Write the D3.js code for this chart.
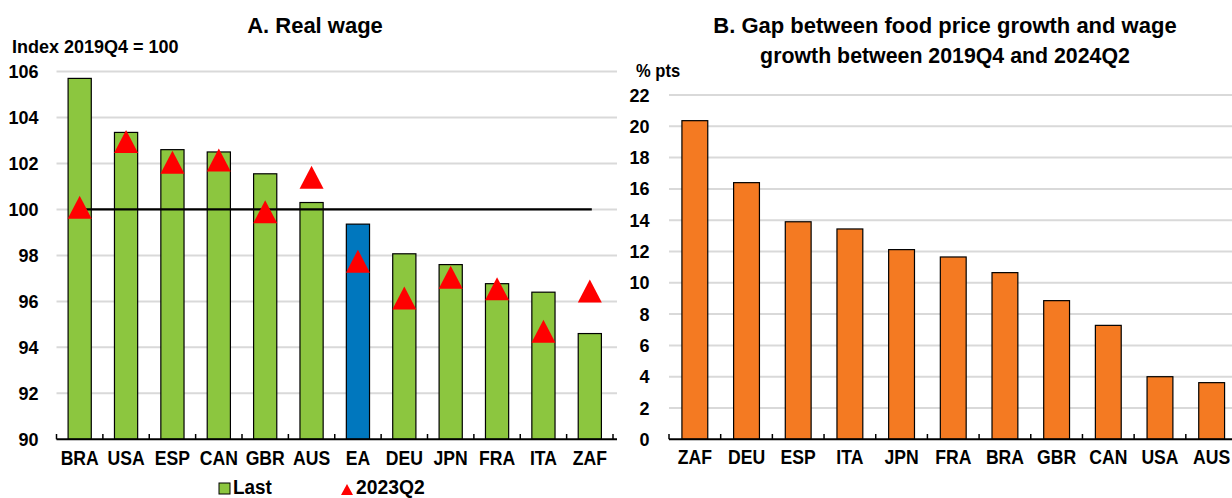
<!DOCTYPE html>
<html lang="en">
<head>
<meta charset="utf-8">
<title>Real wages and food prices</title>
<script src="https://d3js.org/d3.v7.min.js"></script>
<style>
  body { margin: 0; background: #fff; }
  text { font-family: "Liberation Sans", Arial, sans-serif; font-weight: bold; fill: #000; }
</style>
</head>
<body>
<script>
// Panel A data
var catsA = ["BRA", "USA", "ESP", "CAN", "GBR", "AUS", "EA", "DEU", "JPN", "FRA", "ITA", "ZAF"];
var lastA = [105.7, 103.35, 102.6, 102.5, 101.55, 100.3, 99.36, 98.07, 97.6, 96.77, 96.4, 94.6];
var q2A = [100.1, 102.95, 102.05, 102.15, 99.9, 101.4, 97.75, 96.15, 97.05, 96.55, 94.7, 96.45];
var ticksA = [90, 92, 94, 96, 98, 100, 102, 104, 106];

// Panel B data
var catsB = ["ZAF", "DEU", "ESP", "ITA", "JPN", "FRA", "BRA", "GBR", "CAN", "USA", "AUS"];
var gapB = [20.36, 16.4, 13.9, 13.44, 12.12, 11.65, 10.65, 8.86, 7.28, 4.0, 3.62];
var ticksB = [0, 2, 4, 6, 8, 10, 12, 14, 16, 18, 20, 22];

var W = 1232, H = 498;
var green = "#8cc63f", blue = "#0077be", orange = "#f47a22", grid = "#d9d9d9";

var svg = d3.select("body").append("svg")
    .attr("width", W)
    .attr("height", H);

// triangle with its box centred on the point
var triPath = function(w, h){
  return "M0," + (-h / 2) + "L" + (w / 2) + "," + (h / 2) + "L" + (-w / 2) + "," + (h / 2) + "Z";
};

// text squeezed a little, the source uses a narrow face
var narrow = function(g, x, y, size, str, anchor, sx){
  return g.append("text")
    .attr("transform", "translate(" + x + "," + y + ") scale(" + (sx || 1) + ",1)")
    .attr("text-anchor", anchor || "start")
    .attr("font-size", size + "px")
    .text(str);
};

// ---------- Panel A ----------
var xA = d3.scaleBand().domain(catsA).range([56.5, 613]).paddingInner(0.5).paddingOuter(0.25);
var yA = d3.scaleLinear().domain([90, 106]).range([439.3, 71.5]);

var gA = svg.append("g");

gA.selectAll("line.grid")
  .data(ticksA.slice(1))
  .enter().append("line")
    .attr("class", "grid")
    .attr("x1", 56.5).attr("x2", 617)
    .attr("y1", function(d){ return yA(d); })
    .attr("y2", function(d){ return yA(d); })
    .attr("stroke", grid).attr("stroke-width", 2);

ticksA.forEach(function(d){
  narrow(gA, 38.5, yA(d) + 6.5, 18, d, "end");
});

gA.selectAll("rect.bar")
  .data(lastA)
  .enter().append("rect")
    .attr("class", "bar")
    .attr("x", function(d, i){ return xA(catsA[i]); })
    .attr("width", xA.bandwidth())
    .attr("y", function(d){ return yA(d); })
    .attr("height", function(d){ return yA(90) - yA(d); })
    .attr("fill", function(d, i){ return catsA[i] === "EA" ? blue : green; })
    .attr("stroke", "#000").attr("stroke-width", 1.2);

// reference line at 100
gA.append("line")
    .attr("x1", xA(catsA[0]) + xA.bandwidth() / 2)
    .attr("x2", xA(catsA[catsA.length - 1]) + xA.bandwidth() / 2 + 2)
    .attr("y1", yA(100)).attr("y2", yA(100))
    .attr("stroke", "#000").attr("stroke-width", 2.2);

gA.selectAll("path.tri")
  .data(q2A)
  .enter().append("path")
    .attr("class", "tri")
    .attr("d", triPath(24, 23))
    .attr("transform", function(d, i){
      return "translate(" + (xA(catsA[i]) + xA.bandwidth() / 2) + "," + yA(d) + ")";
    })
    .attr("fill", "#ff0000");

// x axis A
gA.append("line")
    .attr("x1", 56.5).attr("x2", 617)
    .attr("y1", 439.3).attr("y2", 439.3)
    .attr("stroke", "#000").attr("stroke-width", 2);
gA.selectAll("line.xtick")
  .data(d3.range(catsA.length + 1))
  .enter().append("line")
    .attr("class", "xtick")
    .attr("x1", function(d){ return 56.5 + d * xA.step(); })
    .attr("x2", function(d){ return 56.5 + d * xA.step(); })
    .attr("y1", 439.3).attr("y2", 434)
    .attr("stroke", "#000").attr("stroke-width", 1.5);
catsA.forEach(function(d){
  narrow(gA, xA(d) + xA.bandwidth() / 2, 465, 20, d, "middle", 0.88);
});

narrow(gA, 315, 33, 22, "A. Real wage", "middle");
narrow(gA, 12, 52.5, 18, "Index 2019Q4 = 100");

// legend A
gA.append("rect")
    .attr("x", 219).attr("y", 483).attr("width", 11).attr("height", 11)
    .attr("fill", green).attr("stroke", "#000").attr("stroke-width", 1);
narrow(gA, 233, 494, 19.5, "Last", "start", 0.97);
gA.append("path")
    .attr("d", triPath(12, 11))
    .attr("transform", "translate(347,489.5)")
    .attr("fill", "#ff0000");
narrow(gA, 356, 494, 19.5, "2023Q2", "start", 0.99);

// ---------- Panel B ----------
var xB = d3.scaleBand().domain(catsB).range([669, 1237.5]).paddingInner(0.5).paddingOuter(0.25);
var yB = d3.scaleLinear().domain([0, 22]).range([439.3, 95]);

var gB = svg.append("g");

gB.selectAll("line.grid")
  .data(ticksB.slice(1))
  .enter().append("line")
    .attr("class", "grid")
    .attr("x1", 669).attr("x2", W)
    .attr("y1", function(d){ return yB(d); })
    .attr("y2", function(d){ return yB(d); })
    .attr("stroke", grid).attr("stroke-width", 2);

ticksB.forEach(function(d){
  narrow(gB, 649.5, yB(d) + 6.5, 18, d, "end");
});

gB.selectAll("rect.bar")
  .data(gapB)
  .enter().append("rect")
    .attr("class", "bar")
    .attr("x", function(d, i){ return xB(catsB[i]); })
    .attr("width", xB.bandwidth())
    .attr("y", function(d){ return yB(d); })
    .attr("height", function(d){ return yB(0) - yB(d); })
    .attr("fill", orange)
    .attr("stroke", "#000").attr("stroke-width", 1.2);

gB.append("line")
    .attr("x1", 669).attr("x2", W)
    .attr("y1", 439.3).attr("y2", 439.3)
    .attr("stroke", "#000").attr("stroke-width", 2);
gB.selectAll("line.xtick")
  .data(d3.range(catsB.length + 1))
  .enter().append("line")
    .attr("class", "xtick")
    .attr("x1", function(d){ return 669 + d * xB.step(); })
    .attr("x2", function(d){ return 669 + d * xB.step(); })
    .attr("y1", 439.3).attr("y2", 434)
    .attr("stroke", "#000").attr("stroke-width", 1.5);
catsB.forEach(function(d){
  narrow(gB, xB(d) + xB.bandwidth() / 2, 464, 20, d, "middle", 0.88);
});

narrow(gB, 945, 33, 22, "B. Gap between food price growth and wage", "middle");
narrow(gB, 945, 63, 22, "growth between 2019Q4 and 2024Q2", "middle", 0.97);
narrow(gB, 636, 77, 18, "% pts", "start", 0.92);
</script>
</body>
</html>
